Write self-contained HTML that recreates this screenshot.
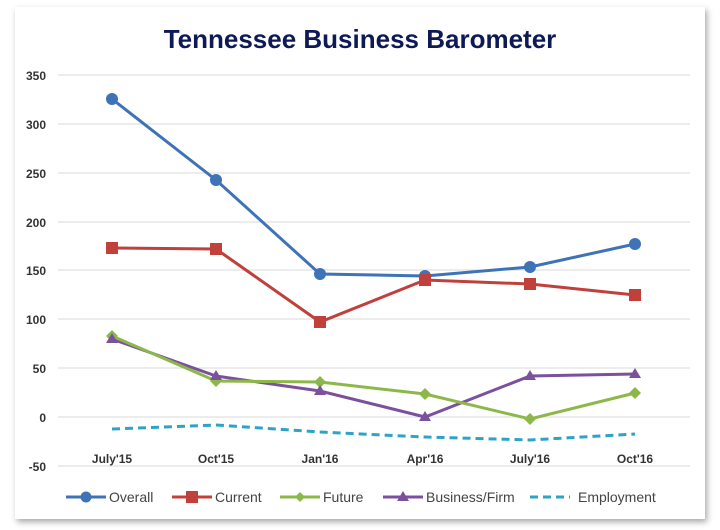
<!DOCTYPE html>
<html><head><style>
body{margin:0;background:#fff;width:720px;height:530px;overflow:hidden;font-family:"Liberation Sans",sans-serif;}
.card{position:absolute;left:15px;top:7px;width:690px;height:512px;background:#fff;box-shadow:2px 3px 6px rgba(0,0,0,0.35);}
</style></head><body>
<div class="card"></div>
<svg width="720" height="530" style="position:absolute;left:0;top:0" font-family="Liberation Sans, sans-serif">
<text x="360" y="48" text-anchor="middle" font-size="26" font-weight="bold" fill="#0d1a55">Tennessee Business Barometer</text>
<g stroke="#d9d9d9" stroke-width="1">
<line x1="58" x2="690" y1="75" y2="75"/><line x1="58" x2="690" y1="124" y2="124"/>
<line x1="58" x2="690" y1="173" y2="173"/><line x1="58" x2="690" y1="222" y2="222"/>
<line x1="58" x2="690" y1="270" y2="270"/><line x1="58" x2="690" y1="319" y2="319"/>
<line x1="58" x2="690" y1="368" y2="368"/><line x1="58" x2="690" y1="417" y2="417"/>
<line x1="58" x2="690" y1="466" y2="466"/>
</g>
<g font-size="12" font-weight="bold" fill="#333" text-anchor="end">
<text x="46" y="80">350</text><text x="46" y="129">300</text><text x="46" y="178">250</text>
<text x="46" y="227">200</text><text x="46" y="275">150</text><text x="46" y="324">100</text>
<text x="46" y="373">50</text><text x="46" y="422">0</text><text x="46" y="471">-50</text>
</g>
<g font-size="12" font-weight="bold" fill="#333" text-anchor="middle">
<text x="112" y="463">July'15</text><text x="216" y="463">Oct'15</text><text x="320" y="463">Jan'16</text>
<text x="425" y="463">Apr'16</text><text x="530" y="463">July'16</text><text x="635" y="463">Oct'16</text>
</g>
<polyline fill="none" stroke="#2ea3c7" stroke-width="3" stroke-dasharray="8,5" points="112,429 216,425 320,432 425,437 530,440 635,434"/>
<polyline fill="none" stroke="#7b519d" stroke-width="3" points="112,339 216,376 320,391 425,417 530,376 635,374"/>
<polyline fill="none" stroke="#8cb84a" stroke-width="3" points="112,336 216,381 320,382 425,394 530,419 635,393"/>
<polyline fill="none" stroke="#c0403c" stroke-width="3" points="112,248 216,249 320,322 425,280 530,284 635,295"/>
<polyline fill="none" stroke="#3f73b8" stroke-width="3" points="112,99 216,180 320,274 425,276 530,267 635,244"/>
<g fill="#3f73b8"><circle cx="112" cy="99" r="6"/><circle cx="216" cy="180" r="6"/><circle cx="320" cy="274" r="6"/><circle cx="425" cy="276" r="6"/><circle cx="530" cy="267" r="6"/><circle cx="635" cy="244" r="6"/></g>
<g fill="#c0403c"><rect x="106" y="242" width="12" height="12"/><rect x="210" y="243" width="12" height="12"/><rect x="314" y="316" width="12" height="12"/><rect x="419" y="274" width="12" height="12"/><rect x="524" y="278" width="12" height="12"/><rect x="629" y="289" width="12" height="12"/></g>
<g fill="#8cb84a"><path d="M112 330l6 6-6 6-6-6z"/><path d="M216 375l6 6-6 6-6-6z"/><path d="M320 376l6 6-6 6-6-6z"/><path d="M425 388l6 6-6 6-6-6z"/><path d="M530 413l6 6-6 6-6-6z"/><path d="M635 387l6 6-6 6-6-6z"/></g>
<g fill="#7b519d"><path d="M112 333l6 10h-12z"/><path d="M216 370l6 10h-12z"/><path d="M320 385l6 10h-12z"/><path d="M425 411l6 10h-12z"/><path d="M530 370l6 10h-12z"/><path d="M635 368l6 10h-12z"/></g>
<g font-size="14" fill="#444">
<line x1="66" x2="106" y1="497" y2="497" stroke="#3f73b8" stroke-width="3"/><circle cx="86" cy="497" r="5.5" fill="#3f73b8"/><text x="109" y="502">Overall</text>
<line x1="172" x2="212" y1="497" y2="497" stroke="#c0403c" stroke-width="3"/><rect x="186" y="491" width="12" height="12" fill="#c0403c"/><text x="215" y="502">Current</text>
<line x1="280" x2="320" y1="497" y2="497" stroke="#8cb84a" stroke-width="3"/><path d="M300 492l5 5-5 5-5-5z" fill="#8cb84a"/><text x="323" y="502">Future</text>
<line x1="383" x2="423" y1="497" y2="497" stroke="#7b519d" stroke-width="3"/><path d="M403 491l6 10h-12z" fill="#7b519d"/><text x="426" y="502">Business/Firm</text>
<line x1="530" x2="570" y1="497" y2="497" stroke="#2ea3c7" stroke-width="3" stroke-dasharray="8,5"/><text x="578" y="502">Employment</text>
</g>
</svg>
</body></html>
